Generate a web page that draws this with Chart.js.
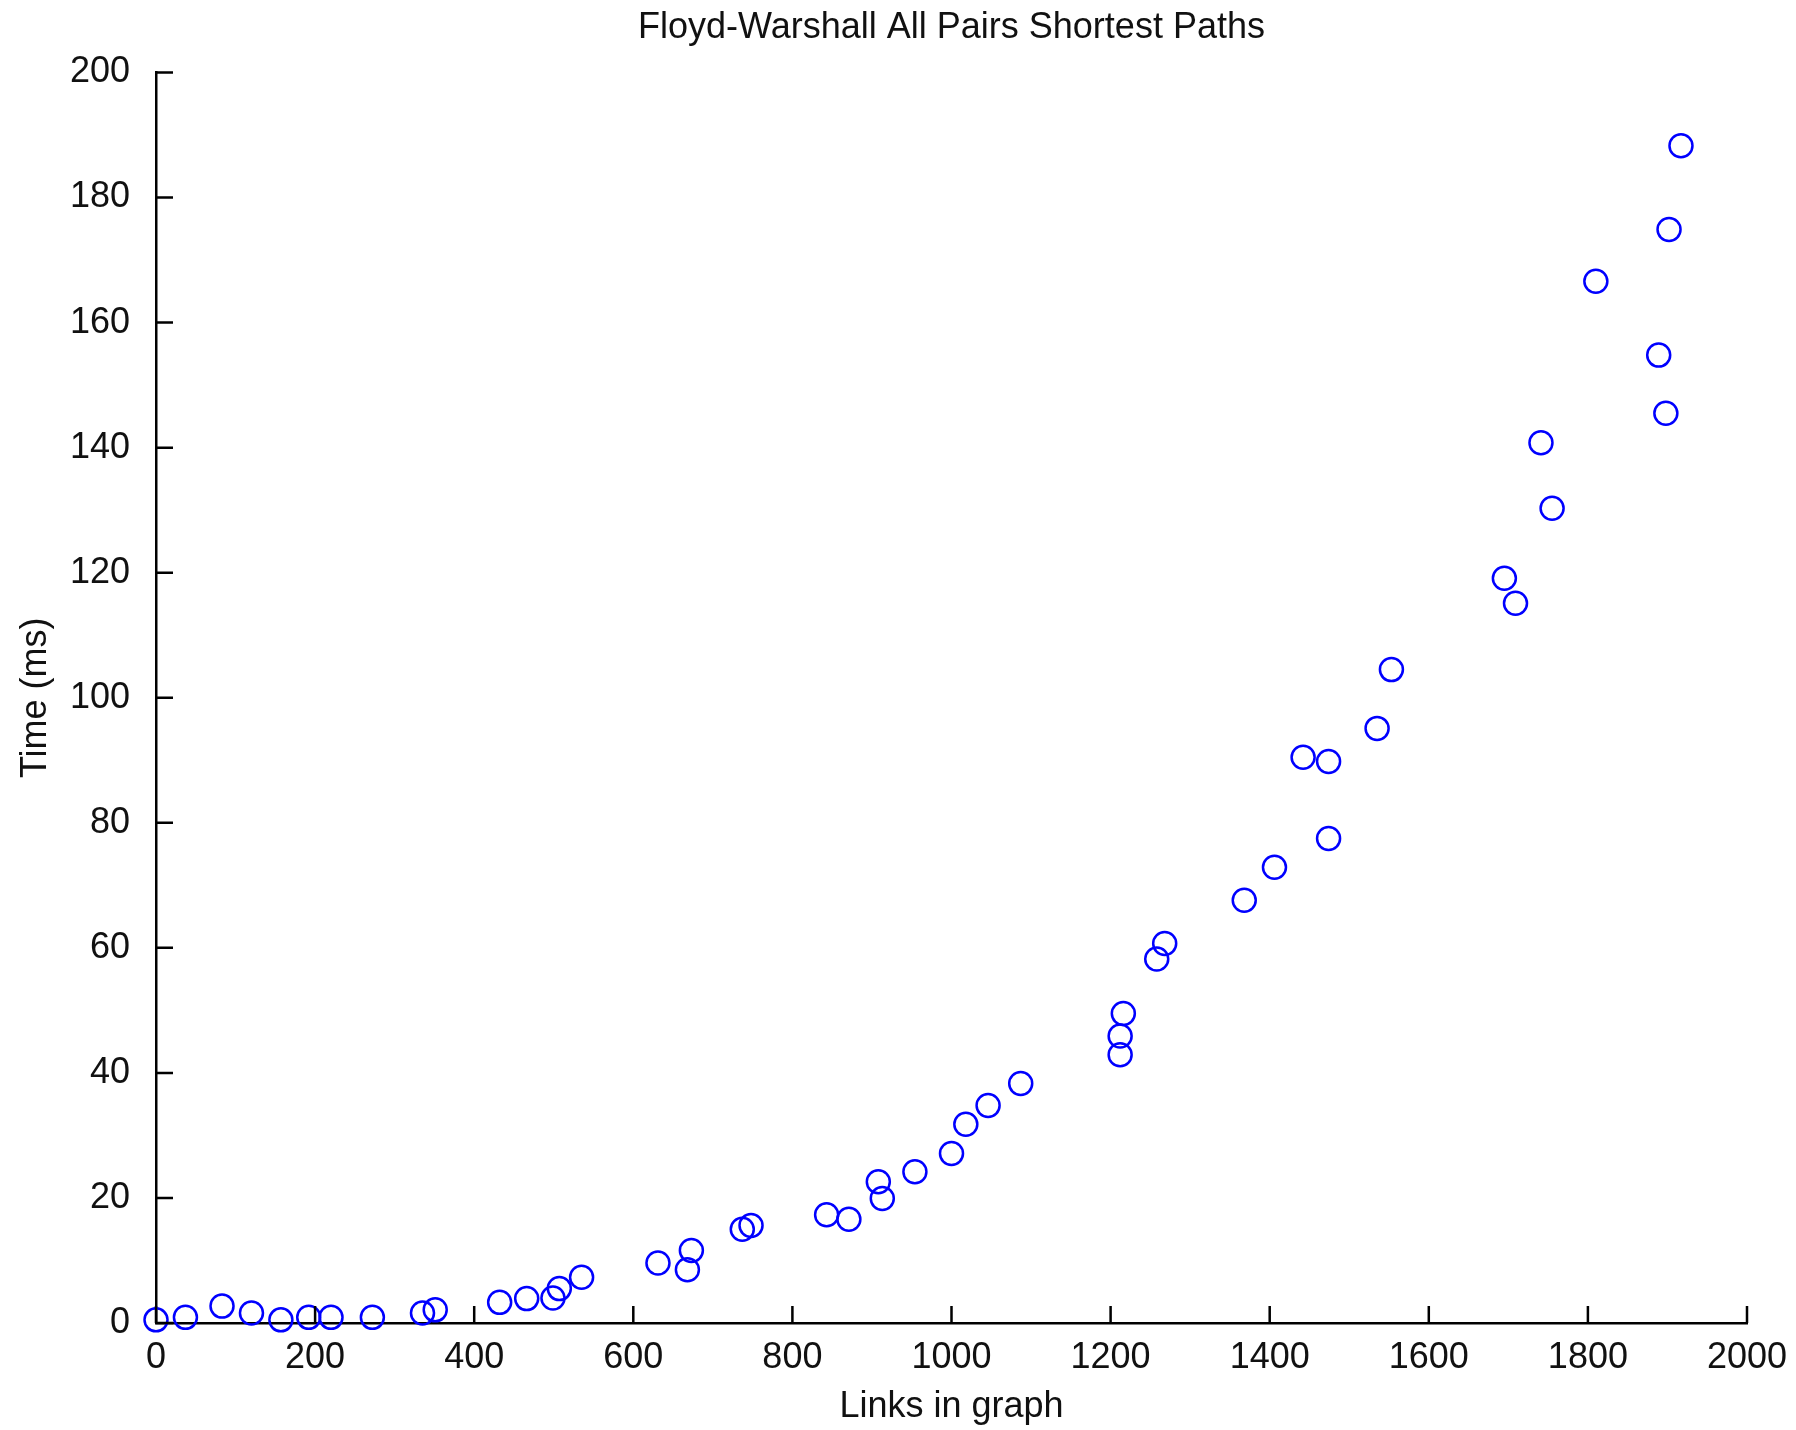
<!DOCTYPE html>
<html>
<head>
<meta charset="utf-8">
<title>Floyd-Warshall All Pairs Shortest Paths</title>
<script src="https://cdn.jsdelivr.net/npm/chart.js@4.4.1/dist/chart.umd.min.js"></script>
<style>
  html, body { margin: 0; padding: 0; background: #fff; }
  #wrap { width: 1796px; height: 1430px; }
  canvas { display: block; }
</style>
</head>
<body>
<div id="wrap"><canvas id="fwChart" width="1796" height="1430"></canvas></div>
<script>
// ---- Data ----
const linksInGraph = [0, 37, 83, 120, 157, 192, 220, 272, 335, 351,
  432, 466, 499, 507, 535, 631, 668, 673, 737, 748,
  843, 871, 908, 913, 954, 1000, 1018, 1046, 1087, 1212,
  1212, 1216, 1258, 1268, 1368, 1406, 1442, 1474, 1474, 1535,
  1553, 1695, 1709, 1741, 1755, 1810, 1889, 1898, 1902, 1917];

const timeMs = [0.5, 0.9, 2.7, 1.6, 0.5, 0.9, 0.9, 0.9, 1.6, 2.1,
  3.3, 3.9, 4.0, 5.5, 7.3, 9.6, 8.5, 11.6, 15.0, 15.6,
  17.3, 16.6, 22.6, 19.9, 24.2, 27.1, 31.8, 34.8, 38.3, 42.9,
  45.9, 49.5, 58.2, 60.7, 67.6, 72.9, 90.5, 89.8, 77.5, 95.1,
  104.5, 119.1, 115.1, 140.8, 130.3, 166.6, 154.8, 145.5, 174.9, 188.3];

const xTickValues = [0, 200, 400, 600, 800, 1000, 1200, 1400, 1600, 1800, 2000];
const yTickValues = [0, 20, 40, 60, 80, 100, 120, 140, 160, 180, 200];

// ---- Helpers ----
const FONT = { family: "'Liberation Sans', Arial, Helvetica, sans-serif", size: 36 };
const INK = '#111';

// matlab-style ticks that point into the plot
const inwardTicks = {
  id: 'inwardTicks',
  afterDraw(chart) {
    const { ctx, chartArea } = chart;
    const { x, y } = chart.scales;
    const len = 17;
    ctx.save();
    ctx.strokeStyle = '#000';
    ctx.lineWidth = 2.5;
    ctx.beginPath();
    x.ticks.forEach(t => {
      const px = x.getPixelForValue(t.value);
      ctx.moveTo(px, chartArea.bottom);
      ctx.lineTo(px, chartArea.bottom - len);
    });
    y.ticks.forEach(t => {
      const py = y.getPixelForValue(t.value);
      ctx.moveTo(chartArea.left, py);
      ctx.lineTo(chartArea.left + len, py);
    });
    ctx.stroke();
    ctx.restore();
  }
};

// ---- Chart ----
const points = linksInGraph.map((v, i) => ({ x: v, y: timeMs[i] }));

new Chart(document.getElementById('fwChart'), {
  type: 'scatter',
  data: {
    datasets: [{
      label: 'Time',
      data: points,
      pointStyle: 'circle',
      pointRadius: 11.5,
      pointHoverRadius: 11.5,
      borderWidth: 2.5,
      borderColor: '#0000ff',
      backgroundColor: 'rgba(0,0,0,0)',
      clip: false
    }]
  },
  options: {
    responsive: false,
    animation: false,
    devicePixelRatio: 1,
    layout: { padding: { left: 0, right: 49, top: 0, bottom: 0 } },
    plugins: {
      legend: { display: false },
      tooltip: { enabled: false },
      title: {
        display: true,
        fullSize: false,
        text: 'Floyd-Warshall All Pairs Shortest Paths',
        color: INK,
        font: { ...FONT, weight: 'normal' },
        padding: { top: 6, bottom: 23.3 }
      }
    },
    scales: {
      x: {
        type: 'linear',
        min: 0,
        max: 2000,
        afterBuildTicks: s => { s.ticks = xTickValues.map(v => ({ value: v })); },
        afterFit: s => { s.height = 107; },
        grid: { display: false },
        border: { display: true, color: '#000', width: 2.5 },
        ticks: { color: INK, font: FONT, padding: 5, maxRotation: 0, callback: v => String(v) },
        title: {
          display: true,
          text: 'Links in graph',
          color: INK,
          font: FONT,
          padding: { top: 0, bottom: 1 }
        }
      },
      y: {
        type: 'linear',
        min: 0,
        max: 200,
        afterBuildTicks: s => { s.ticks = yTickValues.map(v => ({ value: v })); },
        afterFit: s => { s.width = 156; },
        grid: { display: false },
        border: { display: true, color: '#000', width: 2.5 },
        ticks: { color: INK, font: FONT, padding: 18, callback: v => String(v) },
        title: {
          display: true,
          text: 'Time (ms)',
          color: INK,
          font: FONT,
          padding: { top: 14, bottom: 0 }
        }
      }
    }
  },
  plugins: [inwardTicks]
});
</script>
</body>
</html>
